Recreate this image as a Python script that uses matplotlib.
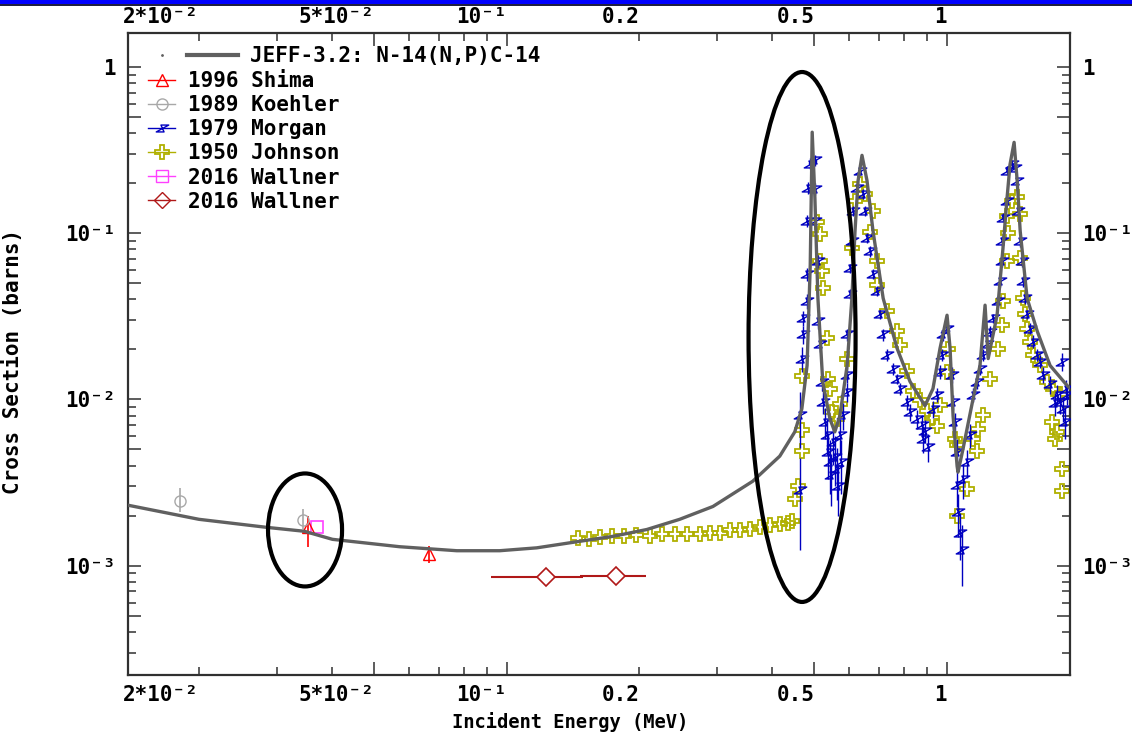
import matplotlib
matplotlib.use("Agg")
import matplotlib.pyplot as plt
from matplotlib.patches import Ellipse, Rectangle
from matplotlib.lines import Line2D
from matplotlib.path import Path
from matplotlib.legend_handler import HandlerTuple
from matplotlib.ticker import FixedLocator, FuncFormatter

plt.rcParams['font.family'] = 'DejaVu Sans Mono'
plt.rcParams['font.weight'] = 'bold'

# evaluated curve JEFF-3.2 N-14(n,p)C-14
jeff_e = [0.0138, 0.0200, 0.0285, 0.0347, 0.0402, 0.0571, 0.0770, 0.0964, 0.117, 0.141,
          0.174, 0.208, 0.247, 0.294, 0.362, 0.417, 0.451, 0.468, 0.481, 0.489,
          0.494, 0.501, 0.509, 0.522, 0.542, 0.556, 0.571, 0.593, 0.608, 0.618,
          0.628, 0.641, 0.658, 0.679, 0.716, 0.770, 0.824, 0.891, 0.929, 0.964,
          1.000, 1.016, 1.032, 1.054, 1.059, 1.087, 1.146, 1.188, 1.220, 1.240,
          1.299, 1.340, 1.369, 1.390, 1.420, 1.443, 1.466, 1.520, 1.603, 1.714,
          1.875, 1.950]
jeff_xs = [2.31e-3, 1.90e-3, 1.70e-3, 1.61e-3, 1.44e-3, 1.30e-3, 1.23e-3, 1.23e-3, 1.28e-3, 1.38e-3,
           1.50e-3, 1.65e-3, 1.90e-3, 2.27e-3, 3.22e-3, 4.56e-3, 6.38e-3, 8.78e-3, 1.60e-2, 6.44e-2,
           0.405, 0.164, 4.06e-2, 1.28e-2, 7.64e-3, 6.38e-3, 7.97e-3, 1.60e-2, 4.06e-2, 0.103,
           0.207, 0.294, 0.207, 0.103, 4.06e-2, 2.03e-2, 1.28e-2, 9.16e-3, 1.16e-2, 2.03e-2,
           3.21e-2, 2.03e-2, 7.97e-3, 3.97e-3, 3.65e-3, 5.03e-3, 1.01e-2, 1.60e-2, 3.69e-2, 1.76e-2,
           3.21e-2, 8.16e-2, 0.164, 0.259, 0.352, 0.207, 0.103, 4.06e-2, 2.57e-2, 1.60e-2,
           1.21e-2, 1.10e-2]

# 1996 Shima
shima_e = [0.0353, 0.0665]
shima_xs = [1.70e-3, 1.18e-3]
shima_lo = [0.40e-3, 0.14e-3]
shima_hi = [0.28e-3, 0.14e-3]

# 1989 Koehler
koehler_e = [0.0181, 0.0344]
koehler_xs = [2.45e-3, 1.87e-3]
koehler_lo = [0.36e-3, 0.20e-3]
koehler_hi = [0.47e-3, 0.31e-3]

# 1979 Morgan
morgan_e = [0.463, 0.463, 0.468, 0.471, 0.471, 0.481, 0.481, 0.481, 0.483, 0.489,
            0.501, 0.501, 0.501, 0.509, 0.509, 0.514, 0.520, 0.523, 0.528, 0.533,
            0.537, 0.542, 0.546, 0.551, 0.556, 0.562, 0.566, 0.571, 0.575, 0.580,
            0.593, 0.593, 0.593, 0.602, 0.602, 0.608, 0.611, 0.624, 0.634, 0.644,
            0.651, 0.658, 0.668, 0.679, 0.693, 0.705, 0.715, 0.731, 0.754, 0.770,
            0.782, 0.811, 0.824, 0.855, 0.877, 0.882, 0.890, 0.905, 0.929, 0.949,
            0.964, 0.974, 0.979, 1.000, 1.027, 1.032, 1.043, 1.054, 1.054, 1.059,
            1.070, 1.082, 1.087, 1.110, 1.128, 1.146, 1.170, 1.188, 1.208, 1.233,
            1.253, 1.272, 1.306, 1.319, 1.334, 1.334, 1.340, 1.369, 1.369, 1.406,
            1.427, 1.442, 1.449, 1.466, 1.480, 1.489, 1.503, 1.520, 1.545, 1.569,
            1.602, 1.626, 1.652, 1.714, 1.760, 1.778, 1.807, 1.825, 1.835, 1.854,
            1.865, 1.875]
morgan_xs = [0.00284, 0.00807, 0.0176, 0.0246, 0.0308, 0.0389, 0.0567, 0.119, 0.188, 0.262,
             0.274, 0.185, 0.119, 0.0680, 0.0295, 0.0214, 0.0128, 0.00966, 0.00732, 0.00611,
             0.00482, 0.00419, 0.0035, 0.00554, 0.0045, 0.00380, 0.0030, 0.00611, 0.0042, 0.00807,
             0.0111, 0.0141, 0.0246, 0.0430, 0.0617, 0.0898, 0.136, 0.188, 0.238, 0.173,
             0.136, 0.0937, 0.0782, 0.0567, 0.0448, 0.0325, 0.0246, 0.0186, 0.0153, 0.0133,
             0.0116, 0.00966, 0.00841, 0.00763, 0.00702, 0.00578, 0.0065, 0.0052, 0.00877, 0.0107,
             0.0147, 0.0186, 0.0246, 0.0267, 0.0141, 0.00966, 0.00732, 0.00482, 0.00304, 0.00209,
             0.00158, 0.00125, 0.00331, 0.00419, 0.00611, 0.0107, 0.0128, 0.0153, 0.0186, 0.0214,
             0.0256, 0.0308, 0.0389, 0.0514, 0.0680, 0.0898, 0.124, 0.157, 0.238, 0.262,
             0.248, 0.207, 0.136, 0.0898, 0.0680, 0.0514, 0.0406, 0.0325, 0.0267, 0.0223,
             0.0186, 0.0169, 0.0141, 0.0123, 0.0095, 0.0107, 0.00966, 0.0169, 0.00877, 0.00732,
             0.0115, 0.0107]
morgan_err = [0.0016, 0.003, 0.003, 0.003, 0.003, 0.004, 0.005, 0.01, 0.015, 0.02,
              0.02, 0.015, 0.01, 0.006, 0.003, 0.002, 0.0015, 0.0015, 0.0015, 0.0015,
              0.0015, 0.0015, 0.0012, 0.0015, 0.0015, 0.0013, 0.001, 0.0015, 0.0015, 0.0015,
              0.0015, 0.0015, 0.002, 0.003, 0.004, 0.006, 0.01, 0.012, 0.015, 0.012,
              0.01, 0.007, 0.006, 0.004, 0.003, 0.002, 0.002, 0.0015, 0.0012, 0.001,
              0.001, 0.001, 0.001, 0.001, 0.001, 0.001, 0.001, 0.001, 0.001, 0.001,
              0.0015, 0.0015, 0.002, 0.002, 0.0015, 0.001, 0.001, 0.001, 0.0008, 0.0006,
              0.0005, 0.0005, 0.0008, 0.0008, 0.001, 0.001, 0.0012, 0.0012, 0.0015, 0.0015,
              0.002, 0.002, 0.003, 0.004, 0.005, 0.006, 0.008, 0.01, 0.015, 0.015,
              0.015, 0.012, 0.01, 0.007, 0.005, 0.004, 0.003, 0.002, 0.002, 0.002,
              0.0015, 0.0015, 0.0015, 0.0015, 0.0015, 0.0015, 0.0015, 0.002, 0.0015, 0.0015,
              0.0015, 0.0015]

# 1950 Johnson
johnson_e = [0.145, 0.154, 0.163, 0.173, 0.185, 0.197, 0.211, 0.225, 0.241, 0.257,
             0.275, 0.289, 0.305, 0.321, 0.338, 0.357, 0.376, 0.396, 0.417, 0.435,
             0.444, 0.452, 0.459, 0.468, 0.468, 0.468, 0.506, 0.514, 0.514, 0.520,
             0.523, 0.533, 0.537, 0.542, 0.547, 0.562, 0.571, 0.593, 0.608, 0.618,
             0.634, 0.651, 0.668, 0.679, 0.693, 0.693, 0.731, 0.770, 0.782, 0.811,
             0.837, 0.868, 0.901, 0.925, 0.949, 0.964, 1.000, 1.005, 1.043, 1.054,
             1.054, 1.110, 1.146, 1.170, 1.176, 1.208, 1.253, 1.306, 1.334, 1.340,
             1.369, 1.376, 1.369, 1.406, 1.442, 1.466, 1.466, 1.489, 1.503, 1.520,
             1.545, 1.569, 1.626, 1.687, 1.741, 1.807, 1.733, 1.778, 1.760, 1.825,
             1.825]
johnson_xs = [1.46e-3, 1.44e-3, 1.48e-3, 1.50e-3, 1.50e-3, 1.52e-3, 1.50e-3, 1.54e-3, 1.54e-3, 1.56e-3,
              1.56e-3, 1.58e-3, 1.58e-3, 1.63e-3, 1.65e-3, 1.67e-3, 1.70e-3, 1.75e-3, 1.77e-3, 1.80e-3,
              1.85e-3, 2.51e-3, 3.00e-3, 4.90e-3, 6.55e-3, 0.0139, 0.116, 0.0982, 0.0679, 0.0590,
              0.0465, 0.0233, 0.0133, 0.0116, 0.0084, 0.0076, 0.0094, 0.0176, 0.0818, 0.157,
              0.199, 0.173, 0.101, 0.136, 0.0679, 0.0486, 0.0342, 0.0258, 0.0213, 0.0148,
              0.0112, 0.0099, 0.0085, 0.0077, 0.0069, 0.0092, 0.0147, 0.0202, 0.0058, 0.0053,
              0.00198, 0.0029, 0.0058, 0.0049, 0.0066, 0.0081, 0.0133, 0.0202, 0.028, 0.039,
              0.068, 0.100, 0.127, 0.157, 0.164, 0.131, 0.071, 0.0406, 0.0325, 0.0267,
              0.0223, 0.0186, 0.0162, 0.0128, 0.0116, 0.0108, 0.0073, 0.0064, 0.0058, 0.0038,
              0.0028]

# 2016 Wallner (two data sets)
wallner1_e = [0.0370]
wallner1_xs = [1.72e-3]
wallner2_e = [0.1226, 0.1769]
wallner2_xs = [8.58e-4, 8.70e-4]
wallner2_elo = [0.0306, 0.0303]
wallner2_ehi = [0.0262, 0.0300]

x_labels = {0.02: '2*10\u207b\u00b2', 0.05: '5*10\u207b\u00b2', 0.1: '10\u207b\u00b9',
            0.2: '0.2', 0.5: '0.5', 1.0: '1'}
y_labels = {1.0: '1', 0.1: '10\u207b\u00b9', 0.01: '10\u207b\u00b2', 0.001: '10\u207b\u00b3'}

c_jeff = '#606060'
c_shima = '#ff0000'
c_koehler = '#a8a8a8'
c_morgan = '#0000c0'
c_johnson = '#b0b000'
c_w1 = '#ff40ff'
c_w2 = '#b01818'

# bow-tie like marker used for Morgan
morgan_marker = Path([(-1.0, -0.55), (0.25, -0.55), (-0.25, 0.55), (1.0, 0.55), (-1.0, -0.55)],
                     [Path.MOVETO, Path.LINETO, Path.LINETO, Path.LINETO, Path.CLOSEPOLY])


def ylab(v, p):
    for k, s in y_labels.items():
        if abs(v - k) < 1e-9:
            return s
    return ''


fig = plt.figure(figsize=(11.32, 7.32), dpi=100)
ax = fig.add_axes([0.1131, 0.0779, 0.8322, 0.8770])

ax.plot(jeff_e, jeff_xs, color=c_jeff, lw=2.4, zorder=5)

ax.errorbar(morgan_e, morgan_xs, yerr=morgan_err, fmt='none', ecolor=c_morgan, elinewidth=1, zorder=3)
ax.plot(morgan_e, morgan_xs, ls='none', marker=morgan_marker, ms=9, mfc='none', mec=c_morgan, mew=1, zorder=3)

ax.plot(johnson_e, johnson_xs, ls='none', marker='P', ms=10, mfc='none', mec=c_johnson, mew=1.3, zorder=2)

ax.errorbar(shima_e, shima_xs, yerr=[shima_lo, shima_hi], fmt='^', ms=9, mfc='none', mec=c_shima,
            ecolor=c_shima, elinewidth=1.2, mew=1, zorder=4)
ax.errorbar(koehler_e, koehler_xs, yerr=[koehler_lo, koehler_hi], fmt='o', ms=8, mfc='none', mec=c_koehler,
            ecolor=c_koehler, elinewidth=1.2, mew=1, zorder=4)
ax.plot(wallner1_e, wallner1_xs, ls='none', marker='s', ms=9, mfc='none', mec=c_w1, mew=1.2, zorder=4)
ax.errorbar(wallner2_e, wallner2_xs, xerr=[wallner2_elo, wallner2_ehi], fmt='D', ms=9, mfc='white',
            mec=c_w2, ecolor=c_w2, elinewidth=1.5, mew=1.2, zorder=4)

ax.set_xscale('log')
ax.set_yscale('log')
ax.set_xlim(0.0138, 1.903)
ax.set_ylim(2.2e-4, 1.6)

ax.xaxis.set_major_locator(FixedLocator([0.05, 0.1, 0.5, 1.0]))
ax.xaxis.set_minor_locator(FixedLocator([0.02, 0.03, 0.04, 0.06, 0.07, 0.08, 0.09,
                                         0.2, 0.3, 0.4, 0.6, 0.7, 0.8, 0.9]))
xfmt = FuncFormatter(lambda v, p: x_labels.get(round(v, 4), ''))
ax.xaxis.set_major_formatter(xfmt)
ax.xaxis.set_minor_formatter(xfmt)

ymaj = []
ymin = []
for dec in [1e-4, 1e-3, 1e-2, 1e-1, 1.0]:
    ymaj.append(dec)
    ymaj.append(5 * dec)
    for k in [2, 3, 4, 6, 7, 8, 9]:
        ymin.append(k * dec)
ax.yaxis.set_major_locator(FixedLocator(ymaj))
ax.yaxis.set_minor_locator(FixedLocator(ymin))
ax.yaxis.set_major_formatter(FuncFormatter(ylab))
ax.yaxis.set_minor_formatter(FuncFormatter(lambda v, p: ''))

ax.tick_params(which='both', direction='in', top=True, right=True, labeltop=True, labelright=True,
               labelsize=15, width=1.1, color='#303030')
ax.tick_params(which='major', length=9.5)
ax.tick_params(which='minor', length=5.8)
ax.tick_params(axis='x', which='both', pad=7.5)
ax.tick_params(axis='y', which='both', pad=9)
for s in ax.spines.values():
    s.set_linewidth(1.6)
    s.set_color('#303030')

ax.set_xlabel('Incident Energy (MeV)', fontsize=13.5, fontweight='bold')
ax.xaxis.set_label_coords(0.469, -0.057)
ax.set_ylabel('Cross Section (barns)', fontsize=15, fontweight='bold')
ax.yaxis.set_label_coords(-0.1115, 0.489)

# legends
leg_font = {'family': 'DejaVu Sans Mono', 'weight': 'bold', 'size': 15}
jeff_dot = Line2D([], [], ls='none', marker='.', ms=2, color=c_jeff)
jeff_line = Line2D([], [], color=c_jeff, lw=3)
leg1 = ax.legend([(jeff_dot, jeff_line)], ['JEFF-3.2: N-14(N,P)C-14'],
                 handler_map={tuple: HandlerTuple(ndivide=2, pad=0)},
                 loc='upper left', bbox_to_anchor=(0.009, 0.979), frameon=False,
                 borderpad=0, borderaxespad=0, handlelength=4.88, handletextpad=0.58, prop=leg_font)
ax.add_artist(leg1)

exp_handles = [
    Line2D([], [], color=c_shima, lw=1, marker='^', ms=8, mfc='none'),
    Line2D([], [], color=c_koehler, lw=1, marker='o', ms=8, mfc='none'),
    Line2D([], [], color=c_morgan, lw=1, marker=morgan_marker, ms=9, mfc='none'),
    Line2D([], [], color=c_johnson, lw=1, marker='P', ms=10, mfc='none', mew=1.3),
    Line2D([], [], color=c_w1, lw=1, marker='s', ms=8, mfc='none'),
    Line2D([], [], color=c_w2, lw=1, marker='D', ms=8, mfc='none'),
]
exp_names = ['1996 Shima', '1989 Koehler', '1979 Morgan', '1950 Johnson', '2016 Wallner', '2016 Wallner']
ax.legend(exp_handles, exp_names, loc='upper left', bbox_to_anchor=(0.0212, 0.941), frameon=False,
          borderpad=0, borderaxespad=0, handlelength=1.3, handletextpad=0.62, labelspacing=0.2,
          prop=leg_font)

# hand-drawn highlight ellipses
ax.add_patch(Ellipse((0.1879, 0.2259), 0.0786, 0.176, transform=ax.transAxes, fill=False,
                     lw=3, ec='black', zorder=10))
ax.add_patch(Ellipse((0.7155, 0.5265), 0.1136, 0.8255, transform=ax.transAxes, fill=False,
                     lw=3, ec='black', zorder=10))

# blue title strip at the top
fig.patches.append(Rectangle((0, 1 - 4 / 732), 1, 4 / 732, transform=fig.transFigure,
                             facecolor='#0000ff', edgecolor='none'))
fig.patches.append(Rectangle((0, 1 - 5.5 / 732), 1, 1.5 / 732, transform=fig.transFigure,
                             facecolor='#202040', edgecolor='none'))

fig.canvas.draw()
for t in ax.xaxis.get_major_ticks() + ax.xaxis.get_minor_ticks():
    t.label1.set_horizontalalignment('right')
    t.label2.set_horizontalalignment('right')
    t.label2.set_verticalalignment('baseline')

fig.savefig('out.png', dpi=100)
